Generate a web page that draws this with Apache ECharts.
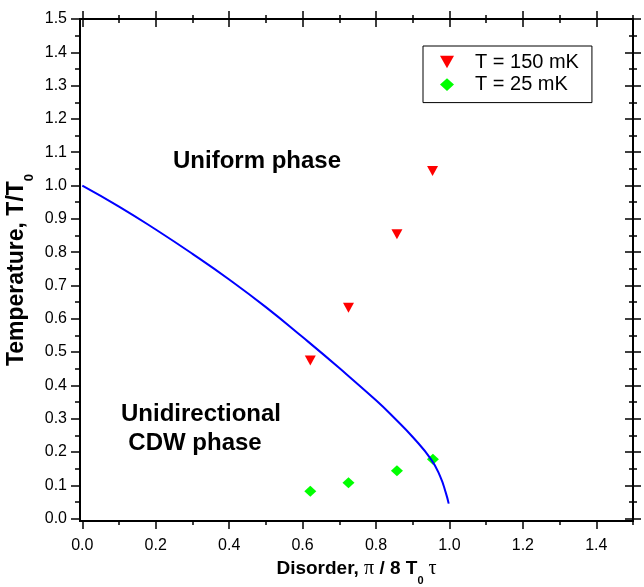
<!DOCTYPE html>
<html><head><meta charset="utf-8">
<script src="https://cdn.jsdelivr.net/npm/echarts@6/dist/echarts.min.js"></script>
<style>html,body{margin:0;padding:0;background:#fff}#c{width:644px;height:587px}</style>
</head><body><div id="c"></div>
<script>
// ---- data ----
const X_TICKS = [0, 0.2, 0.4, 0.6, 0.8, 1.0, 1.2, 1.4];
const X_MINOR_TICKS = [0.1, 0.3, 0.5, 0.7, 0.9, 1.1, 1.3, 1.5];
const Y_TICKS = [0, 0.1, 0.2, 0.3, 0.4, 0.5, 0.6, 0.7, 0.8, 0.9, 1.0, 1.1, 1.2, 1.3, 1.4, 1.5];
const Y_MINOR_TICKS = [0.05, 0.15, 0.25, 0.35, 0.45, 0.55, 0.65, 0.75, 0.85, 0.95, 1.05, 1.15, 1.25, 1.35, 1.45];

const NAME_150 = 'T = 150 mK';
const NAME_25 = 'T = 25 mK';
const T150_X = [0.621, 0.725, 0.857, 0.954];
const T150_Y = [0.475, 0.633, 0.854, 1.044];
const T25_X = [0.621, 0.725, 0.857, 0.955];
const T25_Y = [0.082, 0.108, 0.144, 0.178];

const CURVE_X = [0, 0.1, 0.2, 0.3, 0.4, 0.5, 0.6, 0.7, 0.8, 0.85, 0.9, 0.95, 0.975, 0.99, 0.998];
const CURVE_Y = [1.0, 0.937, 0.868, 0.795, 0.718, 0.635, 0.545, 0.452, 0.355, 0.302, 0.245, 0.178, 0.126, 0.078, 0.045];

const LABEL_UNIFORM = 'Uniform phase';
const LABEL_CDW_1 = 'Unidirectional';
const LABEL_CDW_2 = 'CDW phase';

// ---- chart ----
const FONT = 'Liberation Sans, Arial, sans-serif';
const XMIN = -0.0063, XMAX = 1.5, YMIN = -0.0072, YMAX = 1.5;
const zip = (xs, ys) => xs.map((x, i) => [x, ys[i]]);
const tickLine = { color: '#000', width: 1.5 };

function xa(extra) {
  return Object.assign({
    type: 'value', min: XMIN, max: XMAX, splitLine: { show: false },
    axisLine: { show: false, onZero: false }, axisLabel: { show: false }
  }, extra);
}
function ya(extra) {
  return Object.assign({
    type: 'value', min: YMIN, max: YMAX, splitLine: { show: false },
    axisLine: { show: false, onZero: false }, axisLabel: { show: false }
  }, extra);
}

const chart = echarts.init(document.getElementById('c'), null, { renderer: 'canvas' });
chart.setOption({
  animation: false,
  backgroundColor: '#fff',
  grid: {
    left: 80, right: 11, top: 19, bottom: 66, containLabel: false, outerBoundsMode: 'none',
    show: true, borderColor: '#000', borderWidth: 2, backgroundColor: 'transparent'
  },
  xAxis: [
    xa({
      position: 'bottom',
      axisTick: { show: true, length: 8, customValues: X_TICKS, lineStyle: tickLine },
      axisLabel: { show: true, customValues: X_TICKS, formatter: v => v.toFixed(1), fontFamily: FONT, fontSize: 16, color: '#000', margin: 17 },
      name: '{b|Disorder, }{g|π}{b| / 8 T}{s|0}{g| τ}',
      nameLocation: 'middle', nameGap: 31, nameMoveOverlap: false,
      nameTextStyle: {
        rich: {
          b: { fontFamily: FONT, fontWeight: 'bold', fontSize: 19, color: '#000' },
          g: { fontFamily: 'Liberation Serif, serif', fontSize: 20, color: '#000' },
          s: { fontFamily: FONT, fontWeight: 'bold', fontSize: 11, color: '#000', lineHeight: 34, verticalAlign: 'bottom' }
        }
      }
    }),
    xa({ position: 'bottom', axisTick: { show: true, length: 4, customValues: X_MINOR_TICKS, lineStyle: tickLine } }),
    xa({ position: 'top', offset: 8, axisTick: { show: true, inside: true, length: 16, customValues: X_TICKS, lineStyle: tickLine } }),
    xa({ position: 'top', offset: 4, axisTick: { show: true, inside: true, length: 8, customValues: X_MINOR_TICKS, lineStyle: tickLine } })
  ],
  yAxis: [
    ya({
      position: 'left',
      axisTick: { show: true, length: 9, customValues: Y_TICKS, lineStyle: tickLine },
      axisLabel: { show: true, customValues: Y_TICKS, formatter: v => v.toFixed(1), fontFamily: FONT, fontSize: 16, color: '#000', margin: 13 },
      name: '{b|Temperature, T/T}{s|0}',
      nameLocation: 'middle', nameGap: 44, nameMoveOverlap: false,
      nameTextStyle: {
        rich: {
          b: { fontFamily: FONT, fontWeight: 'bold', fontSize: 23, color: '#000' },
          s: { fontFamily: FONT, fontWeight: 'bold', fontSize: 13, color: '#000', lineHeight: 38, verticalAlign: 'bottom' }
        }
      }
    }),
    ya({ position: 'left', axisTick: { show: true, length: 5, customValues: Y_MINOR_TICKS, lineStyle: tickLine } }),
    ya({ position: 'right', offset: 8, axisTick: { show: true, inside: true, length: 16, customValues: Y_TICKS, lineStyle: tickLine } }),
    ya({ position: 'right', offset: 4, axisTick: { show: true, inside: true, length: 8, customValues: Y_MINOR_TICKS, lineStyle: tickLine } })
  ],
  legend: {
    data: [NAME_150, NAME_25],
    orient: 'vertical', left: 423, top: 46,
    padding: [6, 13, 8, 17],
    itemWidth: 14, itemHeight: 13, itemGap: 2.6,
    borderColor: '#000', borderWidth: 1, backgroundColor: '#fff',
    textStyle: { fontFamily: FONT, fontSize: 20, color: '#000', lineHeight: 20, padding: [0, 0, 0, 16] }
  },
  series: [
    {
      type: 'line', name: 'curve', data: zip(CURVE_X, CURVE_Y), xAxisIndex: 0, yAxisIndex: 0,
      showSymbol: false, symbol: 'none', smooth: 0.5,
      lineStyle: { color: '#0000FF', width: 2 }, z: 2
    },
    {
      type: 'scatter', name: NAME_150, data: zip(T150_X, T150_Y), xAxisIndex: 0, yAxisIndex: 0,
      symbol: 'path://M0,0L10,0L5,9Z', symbolSize: [11, 10],
      itemStyle: { color: '#FF0000', opacity: 1 }, z: 3
    },
    {
      type: 'scatter', name: NAME_25, data: zip(T25_X, T25_Y), xAxisIndex: 0, yAxisIndex: 0,
      symbol: 'path://M6,0L12,5.5L6,11L0,5.5Z', symbolSize: [12, 11],
      itemStyle: { color: '#00FF00', opacity: 1 }, z: 1
    }
  ],
  graphic: [
    { type: 'text', x: 257, y: 161, style: { text: LABEL_UNIFORM, font: 'bold 24px ' + FONT, fill: '#000', align: 'center', verticalAlign: 'middle' } },
    { type: 'text', x: 201, y: 414, style: { text: LABEL_CDW_1, font: 'bold 24px ' + FONT, fill: '#000', align: 'center', verticalAlign: 'middle' } },
    { type: 'text', x: 195, y: 443, style: { text: LABEL_CDW_2, font: 'bold 24px ' + FONT, fill: '#000', align: 'center', verticalAlign: 'middle' } }
  ]
});
</script>
</body></html>
